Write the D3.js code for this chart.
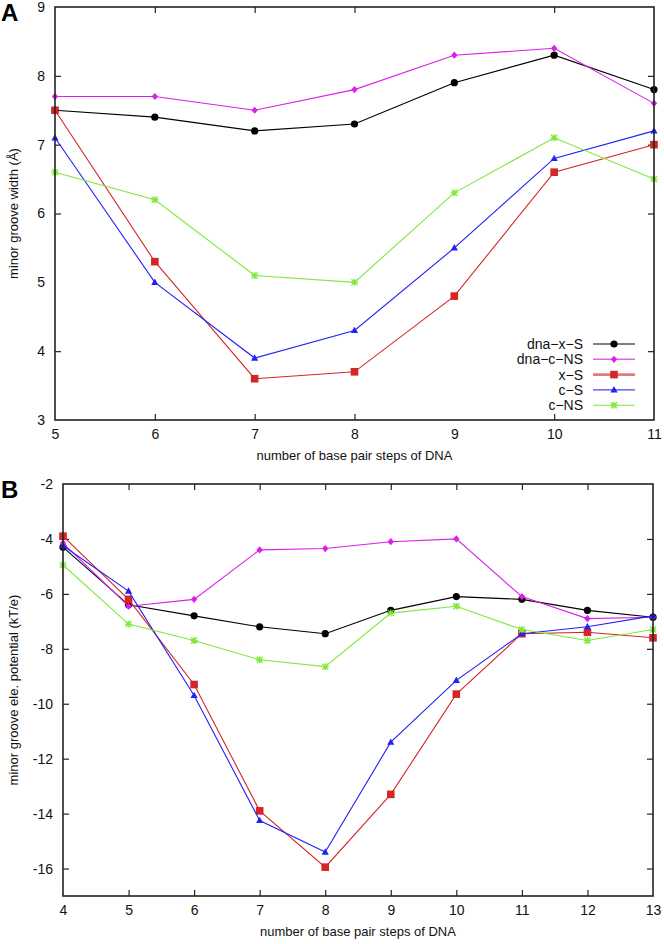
<!DOCTYPE html>
<html>
<head>
<meta charset="utf-8">
<script src="https://cdn.jsdelivr.net/npm/d3@7"></script>
<style>
  body { margin: 0; background: #fff; }
  svg { font-family: "Liberation Sans", Arial, sans-serif; }
  .tick text { font-size: 14px; fill: #111; }
  .tick line { stroke: #222; stroke-width: 1.2; }
  .frame { fill: none; stroke: #222; stroke-width: 1.6; }
  .axtitle { font-size: 13px; fill: #111; }
  .series { fill: none; stroke-width: 1.1; }
</style>
</head>
<body>
<svg id="chart" width="664" height="944"></svg>
<script>
// series names / colours
var seriesNames = ["dna\u2212x\u2212S", "dna\u2212c\u2212NS", "x\u2212S", "c\u2212S", "c\u2212NS"];
var seriesColors = ["#000000", "#d920e8", "#d42626", "#2222f5", "#7fe83a"];
var seriesMarkers = ["circle", "diamond", "square", "triangle", "star"];
// legend keys look a bit softer/thicker for some series
var legendStroke = ["#000000", "#e060f0", "#e07c7c", "#4444f5", "#7fe83a"];
var legendWidth = [1.1, 1.6, 2.6, 1.4, 1.1];

// panel A : minor groove width
var stepsA = [5, 6, 7, 8, 9, 10, 11];
var widthDnaXS  = [7.5, 7.4, 7.2, 7.3, 7.9, 8.3, 7.8];
var widthDnaCNS = [7.7, 7.7, 7.5, 7.8, 8.3, 8.4, 7.6];
var widthXS     = [7.5, 5.3, 3.6, 3.7, 4.8, 6.6, 7.0];
var widthCS     = [7.1, 5.0, 3.9, 4.3, 5.5, 6.8, 7.2];
var widthCNS    = [6.6, 6.2, 5.1, 5.0, 6.3, 7.1, 6.5];
var yTicksA = [3, 4, 5, 6, 7, 8, 9];

// panel B : minor groove electrostatic potential
var stepsB = [4, 5, 6, 7, 8, 9, 10, 11, 12, 13];
var potDnaXS  = [-4.3, -6.4, -6.8, -7.2, -7.45, -6.6, -6.1, -6.2, -6.6, -6.85];
var potDnaCNS = [-4.15, -6.45, -6.2, -4.4, -4.35, -4.1, -4.0, -6.1, -6.9, -6.85];
var potXS     = [-3.9, -6.2, -9.3, -13.9, -15.95, -13.3, -9.65, -7.45, -7.4, -7.6];
var potCS     = [-4.25, -5.9, -9.7, -14.25, -15.4, -11.4, -9.15, -7.45, -7.2, -6.8];
var potCNS    = [-4.95, -7.1, -7.7, -8.4, -8.65, -6.7, -6.45, -7.3, -7.7, -7.3];
var yTicksB = [-16, -14, -12, -10, -8, -6, -4, -2];

var svg = d3.select("#chart");

// marker shapes
function drawMarker(g, type, color, x, y) {
  if (type === "circle") {
    g.append("circle").attr("cx", x).attr("cy", y).attr("r", 3.6).attr("fill", color);
  } else if (type === "diamond") {
    g.append("path").attr("transform", "translate(" + x + "," + y + ")")
      .attr("d", "M0,-3.6L3.2,0L0,3.6L-3.2,0Z").attr("fill", color);
  } else if (type === "square") {
    g.append("rect").attr("x", x - 3.8).attr("y", y - 3.8).attr("width", 7.6).attr("height", 7.6).attr("fill", color);
  } else if (type === "triangle") {
    g.append("path").attr("transform", "translate(" + x + "," + y + ")")
      .attr("d", "M0,-3.8L3.6,2.6L-3.6,2.6Z").attr("fill", color);
  } else {
    var s = g.append("g").attr("transform", "translate(" + x + "," + y + ")")
      .attr("stroke", color).attr("stroke-width", 1.3);
    s.append("path").attr("d", "M-3.5,0H3.5M0,-3.5V3.5M-3,-3L3,3M-3,3L3,-3");
  }
}

function panel(opt) {
  var x = d3.scaleLinear().domain(opt.xDomain).range([opt.left, opt.right]);
  var y = d3.scaleLinear().domain(opt.yDomain).range([opt.bottom, opt.top]);
  var g = svg.append("g");

  var ax;
  ax = g.append("g").attr("transform", "translate(0," + opt.bottom + ")")
    .call(d3.axisBottom(x).tickValues(opt.xTicks).tickSize(-6).tickPadding(9).tickFormat(d3.format("d")));
  ax.select(".domain").remove();
  ax = g.append("g").attr("transform", "translate(0," + opt.top + ")")
    .call(d3.axisTop(x).tickValues(opt.xTicks).tickSize(-6).tickFormat(""));
  ax.select(".domain").remove();
  ax = g.append("g").attr("transform", "translate(" + opt.left + ",0)")
    .call(d3.axisLeft(y).tickValues(opt.yTicks).tickSize(-6).tickPadding(10).tickFormat(d3.format("d")));
  ax.select(".domain").remove();
  ax.selectAll("text").text(function(d) { return String(d); });
  ax = g.append("g").attr("transform", "translate(" + opt.right + ",0)")
    .call(d3.axisRight(y).tickValues(opt.yTicks).tickSize(-6).tickFormat(""));
  ax.select(".domain").remove();

  g.selectAll(".tick line").filter(function(d) {
    return d === opt.xDomain[0] || d === opt.xDomain[1] || d === opt.yDomain[0] || d === opt.yDomain[1];
  }).remove();

  // series
  opt.series.forEach(function(vals, i) {
    var pts = opt.xs.map(function(s, j) { return [x(s), y(vals[j])]; });
    g.append("path").attr("class", "series")
      .attr("d", d3.line()(pts)).attr("stroke", seriesColors[i]);
    var mg = g.append("g");
    pts.forEach(function(p) { drawMarker(mg, seriesMarkers[i], seriesColors[i], p[0], p[1]); });
  });

  g.append("rect").attr("class", "frame")
    .attr("x", opt.left).attr("y", opt.top)
    .attr("width", opt.right - opt.left).attr("height", opt.bottom - opt.top);

  g.append("text").attr("class", "axtitle").attr("text-anchor", "middle")
    .attr("x", (opt.left + opt.right) / 2).attr("y", opt.bottom + 40)
    .text("number of base pair steps of DNA");
  g.append("text").attr("class", "axtitle").attr("text-anchor", "middle")
    .attr("transform", "translate(" + opt.yTitleX + "," + ((opt.top + opt.bottom) / 2) + ") rotate(-90)")
    .text(opt.yTitle);
  g.append("text").attr("x", 1).attr("y", opt.top + 14)
    .attr("font-size", 24).attr("font-weight", "bold").text(opt.letter);
  return { x: x, y: y, g: g };
}

var pA = panel({
  letter: "A", left: 55, right: 654, top: 7, bottom: 420,
  xDomain: [5, 11], yDomain: [3, 9], xTicks: stepsA, yTicks: yTicksA,
  xs: stepsA, series: [widthDnaXS, widthDnaCNS, widthXS, widthCS, widthCNS],
  yTitle: "minor groove width (\u00c5)", yTitleX: 18
});

var pB = panel({
  letter: "B", left: 63, right: 653, top: 484, bottom: 896,
  xDomain: [4, 13], yDomain: [-17, -2], xTicks: stepsB, yTicks: yTicksB,
  xs: stepsB, series: [potDnaXS, potDnaCNS, potXS, potCS, potCNS],
  yTitle: "minor groove ele. potential (kT/e)", yTitleX: 18
});

// legend in panel A
var leg = pA.g.append("g");
seriesNames.forEach(function(name, i) {
  var ly = 344 + i * 15.3;
  leg.append("text").attr("x", 583).attr("y", ly + 5).attr("text-anchor", "end")
    .attr("font-size", 14).attr("fill", "#111").text(name);
  leg.append("line").attr("x1", 593).attr("x2", 635).attr("y1", ly).attr("y2", ly)
    .attr("stroke", legendStroke[i]).attr("stroke-width", legendWidth[i]);
  drawMarker(leg, seriesMarkers[i], seriesColors[i], 614, ly);
});
</script>
</body>
</html>
